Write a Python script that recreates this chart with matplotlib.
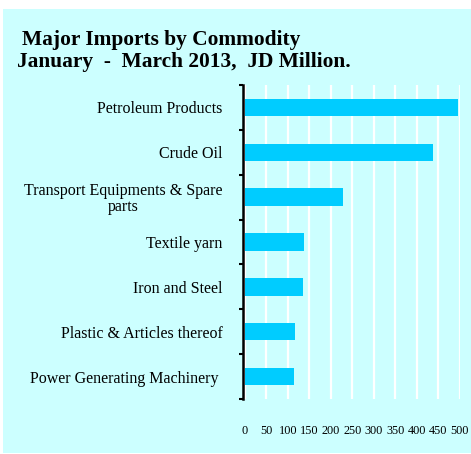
import matplotlib
matplotlib.use("Agg")
import matplotlib.pyplot as plt
from matplotlib.patches import Rectangle
from matplotlib.ticker import FixedLocator

categories = [
    "Petroleum Products",
    "Crude Oil",
    "Transport Equipments & Spare\nparts",
    "Textile yarn",
    "Iron and Steel",
    "Plastic & Articles thereof",
    "Power Generating Machinery ",
]
values = [496, 438, 228, 138, 136, 117, 115]
x_ticks = [0, 50, 100, 150, 200, 250, 300, 350, 400, 450, 500]

W, H = 471, 454
plt.rcParams["font.family"] = ["Liberation Serif", "DejaVu Serif"]

fig = plt.figure(figsize=(W / 100, H / 100), dpi=100)
fig.patch.set_facecolor("white")
fig.patches.append(Rectangle((3 / W, 1 / H), 468 / W, 444 / H,
                             transform=fig.transFigure, facecolor="#CCFFFF",
                             edgecolor="none", zorder=-5))

ax = fig.add_axes([243.3 / W, 55 / H, 216.5 / W, 314 / H])
ax.set_zorder(2)
ax.set_facecolor("none")

n = len(categories)
ypos = list(range(n))
ax.barh(ypos, values, height=0.39, color="#00CCFF", zorder=3)

ax.set_xlim(-4, 500)
ax.set_ylim(n - 0.5, -0.5)

ax.set_xticks(x_ticks)
ax.set_xticklabels([str(t) for t in x_ticks], fontsize=8.8)
ax.tick_params(axis="x", length=0, pad=19)
ax.xaxis.grid(True, color="white", linewidth=1.6, zorder=1)
ax.set_axisbelow(True)

ax.set_yticks(ypos)
ax.set_yticklabels(categories, fontsize=11.5, multialignment="center",
                   linespacing=1.0)
ax.tick_params(axis="y", which="major", length=0, pad=15)
ax.yaxis.set_minor_locator(FixedLocator([i - 0.5 for i in range(n + 1)]))
ax.tick_params(axis="y", which="minor", length=3, width=1.5, color="black")

for side in ("top", "right", "bottom"):
    ax.spines[side].set_visible(False)
ax.spines["left"].set_linewidth(1.8)
ax.spines["left"].set_color("black")

fig.text(22 / W, 1 - 45 / H, "Major Imports by Commodity", fontsize=15.4,
         fontweight="bold", ha="left", va="baseline", zorder=3)
fig.text(17 / W, 1 - 66.5 / H, "January  -  March 2013,  JD Million.",
         fontsize=15.4, fontweight="bold", ha="left", va="baseline", zorder=3)

fig.savefig("out.png", dpi=100)
